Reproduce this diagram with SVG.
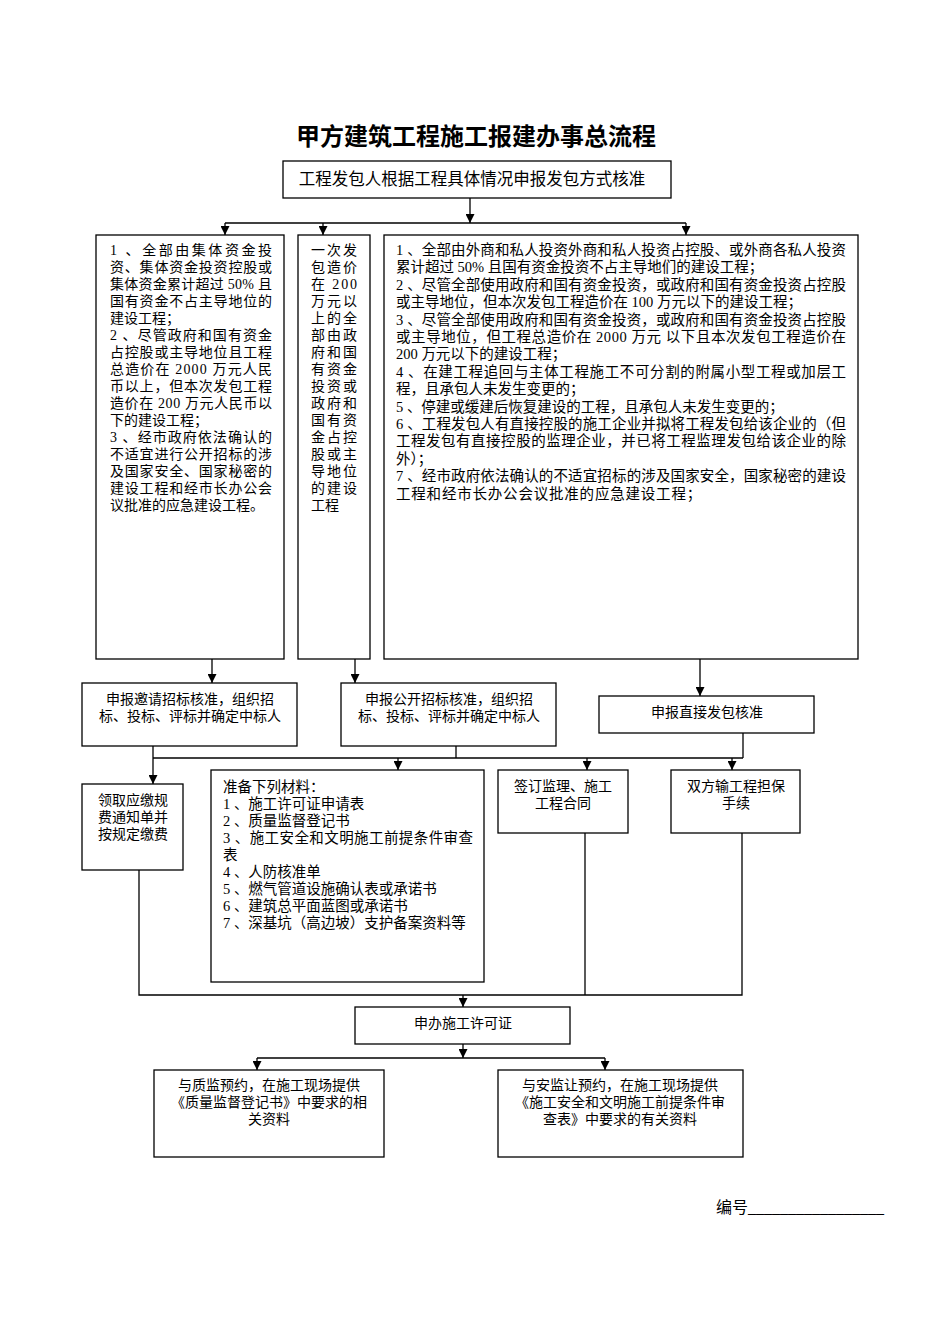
<svg xmlns="http://www.w3.org/2000/svg" width="950" height="1344" viewBox="0 0 950 1344">
<style>
.bg{fill:#fff}
.box{fill:#fff;stroke:#000;stroke-width:1.3}
.t{font-family:"Liberation Serif","Noto Sans CJK SC",serif;font-size:14px;fill:#000}
.r{font-size:14.5px}
.m{text-anchor:middle}
.title{font-family:"Liberation Sans","Noto Sans CJK SC",sans-serif;font-size:24px;font-weight:bold;text-anchor:middle;fill:#000}
.c{stroke:#000;stroke-width:1.3;fill:none}
.a{marker-end:url(#ah)}
</style>
<defs>
<marker id="ah" viewBox="0 0 10 10" refX="10" refY="5" markerWidth="11" markerHeight="9" orient="auto" markerUnits="userSpaceOnUse"><path d="M0,0 L10,5 L0,10 z" fill="#000"/></marker>
</defs>
<rect class="bg" x="0" y="0" width="950" height="1344"/>
<text class="title" x="476" y="145">甲方建筑工程施工报建办事总流程</text>

<g id="connectors">
<path class="c a" d="M470,198 V223"/>
<path class="c" d="M225,223 H686"/>
<path class="c a" d="M225,223 V235"/>
<path class="c a" d="M323,223 V235"/>
<path class="c a" d="M686,223 V235"/>
<path class="c a" d="M212,659 V683"/>
<path class="c a" d="M355,659 V683"/>
<path class="c a" d="M700,659 V696"/>
<path class="c" d="M153,758 H743"/>
<path class="c a" d="M153,746 V784"/>
<path class="c" d="M456,746 V758"/>
<path class="c" d="M743,733 V758"/>
<path class="c a" d="M398,758 V770"/>
<path class="c a" d="M587,758 V770"/>
<path class="c a" d="M732,758 V770"/>
<path class="c" d="M139,870 V995 H742 V833"/>
<path class="c" d="M585,833 V995"/>
<path class="c a" d="M463,995 V1007"/>
<path class="c a" d="M463,1044 V1058"/>
<path class="c" d="M257,1058 H605"/>
<path class="c a" d="M257,1058 V1070"/>
<path class="c a" d="M605,1058 V1070"/>
</g>

<g id="n-start">
<rect class="box" x="283" y="161" width="388" height="37"/>
<text class="t m" x="472" y="185" style="font-size:16.5px">工程发包人根据工程具体情况申报发包方式核准</text>
</g>

<g id="n-left">
<rect class="box" x="96" y="235" width="188" height="424"/>
<text class="t" x="110" y="255" textLength="162" lengthAdjust="spacing">1 、全部由集体资金投</text>
<text class="t" x="110" y="272" textLength="162" lengthAdjust="spacing">资、集体资金投资控股或</text>
<text class="t" x="110" y="289" textLength="162" lengthAdjust="spacing">集体资金累计超过 50% 且</text>
<text class="t" x="110" y="306" textLength="162" lengthAdjust="spacing">国有资金不占主导地位的</text>
<text class="t" x="110" y="323">建设工程；</text>
<text class="t" x="110" y="340" textLength="162" lengthAdjust="spacing">2 、尽管政府和国有资金</text>
<text class="t" x="110" y="357" textLength="162" lengthAdjust="spacing">占控股或主导地位且工程</text>
<text class="t" x="110" y="374" textLength="162" lengthAdjust="spacing">总造价在 2000 万元人民</text>
<text class="t" x="110" y="391" textLength="162" lengthAdjust="spacing">币以上，但本次发包工程</text>
<text class="t" x="110" y="408" textLength="162" lengthAdjust="spacing">造价在 200 万元人民币以</text>
<text class="t" x="110" y="425">下的建设工程；</text>
<text class="t" x="110" y="442" textLength="162" lengthAdjust="spacing">3 、经市政府依法确认的</text>
<text class="t" x="110" y="459" textLength="162" lengthAdjust="spacing">不适宜进行公开招标的涉</text>
<text class="t" x="110" y="476" textLength="162" lengthAdjust="spacing">及国家安全、国家秘密的</text>
<text class="t" x="110" y="493" textLength="162" lengthAdjust="spacing">建设工程和经市长办公会</text>
<text class="t" x="110" y="510">议批准的应急建设工程。</text>
</g>

<g id="n-mid">
<rect class="box" x="298" y="235" width="72" height="424"/>
<text class="t" x="311" y="255" textLength="46" lengthAdjust="spacing">一次发</text>
<text class="t" x="311" y="272" textLength="46" lengthAdjust="spacing">包造价</text>
<text class="t" x="311" y="289" textLength="46" lengthAdjust="spacing">在 200</text>
<text class="t" x="311" y="306" textLength="46" lengthAdjust="spacing">万元以</text>
<text class="t" x="311" y="323" textLength="46" lengthAdjust="spacing">上的全</text>
<text class="t" x="311" y="340" textLength="46" lengthAdjust="spacing">部由政</text>
<text class="t" x="311" y="357" textLength="46" lengthAdjust="spacing">府和国</text>
<text class="t" x="311" y="374" textLength="46" lengthAdjust="spacing">有资金</text>
<text class="t" x="311" y="391" textLength="46" lengthAdjust="spacing">投资或</text>
<text class="t" x="311" y="408" textLength="46" lengthAdjust="spacing">政府和</text>
<text class="t" x="311" y="425" textLength="46" lengthAdjust="spacing">国有资</text>
<text class="t" x="311" y="442" textLength="46" lengthAdjust="spacing">金占控</text>
<text class="t" x="311" y="459" textLength="46" lengthAdjust="spacing">股或主</text>
<text class="t" x="311" y="476" textLength="46" lengthAdjust="spacing">导地位</text>
<text class="t" x="311" y="493" textLength="46" lengthAdjust="spacing">的建设</text>
<text class="t" x="311" y="510">工程</text>
</g>

<g id="n-right">
<rect class="box" x="384" y="235" width="474" height="424"/>
<text class="t r" x="396" y="255" textLength="450" lengthAdjust="spacing">1 、全部由外商和私人投资外商和私人投资占控股、或外商各私人投资</text>
<text class="t r" x="396" y="272.4">累计超过 50% 且国有资金投资不占主导地们的建设工程；</text>
<text class="t r" x="396" y="289.8" textLength="450" lengthAdjust="spacing">2 、尽管全部使用政府和国有资金投资，或政府和国有资金投资占控股</text>
<text class="t r" x="396" y="307.2">或主导地位，但本次发包工程造价在 100 万元以下的建设工程；</text>
<text class="t r" x="396" y="324.6" textLength="450" lengthAdjust="spacing">3 、尽管全部使用政府和国有资金投资，或政府和国有资金投资占控股</text>
<text class="t r" x="396" y="342" textLength="450" lengthAdjust="spacing">或主导地位，但工程总造价在 2000 万元  以下且本次发包工程造价在</text>
<text class="t r" x="396" y="359.4">200 万元以下的建设工程；</text>
<text class="t r" x="396" y="376.8" textLength="450" lengthAdjust="spacing">4 、在建工程追回与主体工程施工不可分割的附属小型工程或加层工</text>
<text class="t r" x="396" y="394.2">程，且承包人未发生变更的；</text>
<text class="t r" x="396" y="411.6">5 、停建或缓建后恢复建设的工程，且承包人未发生变更的；</text>
<text class="t r" x="396" y="429" textLength="450" lengthAdjust="spacing">6 、工程发包人有直接控股的施工企业并拟将工程发包给该企业的（但</text>
<text class="t r" x="396" y="446.4" textLength="450" lengthAdjust="spacing">工程发包有直接控股的监理企业，并已将工程监理发包给该企业的除</text>
<text class="t r" x="396" y="463.8">外）；</text>
<text class="t r" x="396" y="481.2" textLength="450" lengthAdjust="spacing">7 、经市政府依法确认的不适宜招标的涉及国家安全，国家秘密的建设</text>
<text class="t r" x="396" y="498.6" style="letter-spacing:0.8px">工程和经市长办公会议批准的应急建设工程；</text>
</g>

<g id="n-invite">
<rect class="box" x="82" y="683" width="215" height="63"/>
<text class="t m" x="190" y="704">申报邀请招标核准，组织招</text>
<text class="t m" x="190" y="721">标、投标、评标并确定中标人</text>
</g>

<g id="n-public">
<rect class="box" x="341" y="683" width="215" height="63"/>
<text class="t m" x="449" y="704">申报公开招标核准，组织招</text>
<text class="t m" x="449" y="721">标、投标、评标并确定中标人</text>
</g>

<g id="n-direct">
<rect class="box" x="599" y="696" width="215" height="37"/>
<text class="t m" x="707" y="717">申报直接发包核准</text>
</g>

<g id="n-fee">
<rect class="box" x="82" y="784" width="101" height="86"/>
<text class="t m" x="133" y="805">领取应缴规</text>
<text class="t m" x="133" y="822">费通知单并</text>
<text class="t m" x="133" y="839">按规定缴费</text>
</g>

<g id="n-materials">
<rect class="box" x="211" y="770" width="273" height="212"/>
<text class="t r" x="223" y="792">准备下列材料：</text>
<text class="t r" x="223" y="809">1 、施工许可证申请表</text>
<text class="t r" x="223" y="826">2 、质量监督登记书</text>
<text class="t r" x="223" y="843" textLength="250" lengthAdjust="spacing">3 、施工安全和文明施工前提条件审查</text>
<text class="t r" x="223" y="860">表</text>
<text class="t r" x="223" y="877">4 、人防核准单</text>
<text class="t r" x="223" y="894">5 、燃气管道设施确认表或承诺书</text>
<text class="t r" x="223" y="911">6 、建筑总平面蓝图或承诺书</text>
<text class="t r" x="223" y="928">7 、深基坑（高边坡）支护备案资料等</text>
</g>

<g id="n-contract">
<rect class="box" x="498" y="770" width="130" height="63"/>
<text class="t m" x="563" y="791">签订监理、施工</text>
<text class="t m" x="563" y="808">工程合同</text>
</g>

<g id="n-guarantee">
<rect class="box" x="671" y="770" width="129" height="63"/>
<text class="t m" x="736" y="791">双方输工程担保</text>
<text class="t m" x="736" y="808">手续</text>
</g>

<g id="n-permit">
<rect class="box" x="355" y="1007" width="215" height="37"/>
<text class="t m" x="463" y="1028">申办施工许可证</text>
</g>

<g id="n-quality">
<rect class="box" x="154" y="1070" width="230" height="87"/>
<text class="t m" x="269" y="1090">与质监预约，在施工现场提供</text>
<text class="t m" x="269" y="1107">《质量监督登记书》中要求的相</text>
<text class="t m" x="269" y="1124">关资料</text>
</g>

<g id="n-safety">
<rect class="box" x="498" y="1070" width="245" height="87"/>
<text class="t m" x="620" y="1090">与安监让预约，在施工现场提供</text>
<text class="t m" x="620" y="1107">《施工安全和文明施工前提条件审</text>
<text class="t m" x="620" y="1124">查表》中要求的有关资料</text>
</g>

<text class="t" x="716" y="1213" style="font-size:16px">编号_________________</text>
</svg>
